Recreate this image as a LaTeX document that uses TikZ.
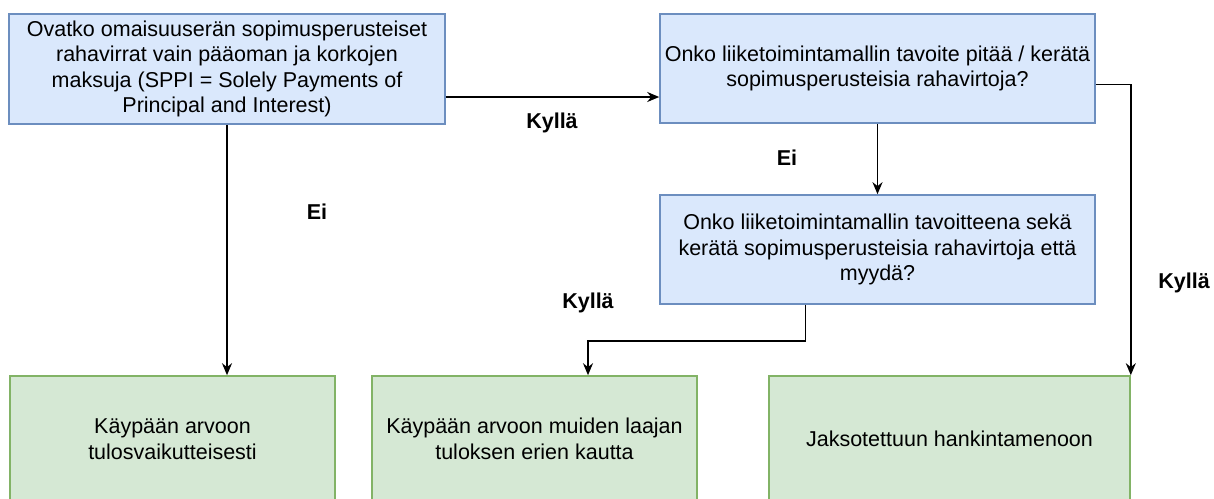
\documentclass[tikz,border=0pt]{standalone}
\usepackage{fontspec}
\setmainfont{Liberation Sans}
\usetikzlibrary{arrows.meta}
\definecolor{bfill}{HTML}{DAE8FC}
\definecolor{bdraw}{HTML}{6C8EBF}
\definecolor{gfill}{HTML}{D5E8D4}
\definecolor{gdraw}{HTML}{82B366}
\begin{document}
\begin{tikzpicture}[x=1pt,y=-1pt,
  font=\fontsize{21.5}{25.5}\selectfont,
  qbox/.style={draw=bdraw,fill=bfill,line width=1.6pt,align=center,inner sep=0pt},
  rbox/.style={draw=gdraw,fill=gfill,line width=1.6pt,align=center,inner sep=0pt},
  conn/.style={line width=1.8pt,-{Stealth[length=12pt,width=10pt]}},
  lbl/.style={font=\fontsize{21.5}{25.5}\selectfont\bfseries}]
\useasboundingbox (0,0) rectangle (1214,498);
\clip (0,0) rectangle (1214,498);
\node[qbox,minimum width=436pt,minimum height=110pt] (b1) at (227,69)
  {Ovatko omaisuuserän sopimusperusteiset\\rahavirrat vain pääoman ja korkojen\\maksuja (SPPI = Solely Payments of\\Principal and Interest)};
\node[qbox,minimum width=435pt,minimum height=109pt] (b2) at (877.5,68.5)
  {Onko liiketoimintamallin tavoite pitää / kerätä\\sopimusperusteisia rahavirtoja?};
\node[qbox,minimum width=435pt,minimum height=109pt] (b3) at (877.5,249.5)
  {Onko liiketoimintamallin tavoitteena sekä\\kerätä sopimusperusteisia rahavirtoja että\\myydä?};
\node[rbox,minimum width=325pt,minimum height=126pt] (ra) at (172.5,439)
  {Käypään arvoon\\tulosvaikutteisesti};
\node[rbox,minimum width=325pt,minimum height=126pt] (rb) at (534.5,439)
  {Käypään arvoon muiden laajan\\tuloksen erien kautta};
\node[rbox,minimum width=361pt,minimum height=126pt] (rc) at (949.5,439)
  {Jaksotettuun hankintamenoon};
\draw[conn] ([yshift=-28pt]b1.east) -- ([yshift=-28pt]b1.east -| b2.west);
\draw[conn] (b1.south) -- (b1.south |- ra.north);
\draw[conn] (b2.south) -- (b3.north);
\draw[conn] ([yshift=-16pt]b2.east) -| (rc.north east);
\draw[conn] ([xshift=-72pt]b3.south) -- ++(0,36) -| ([xshift=53.5pt]rb.north);
\node[lbl] (l1) at (552,123) {Kyllä};
\node[lbl] (l2) at (317,212) {Ei};
\node[lbl] (l3) at (787,158) {Ei};
\node[lbl] (l4) at (588,303) {Kyllä};
\node[lbl] (l5) at (1184,283) {Kyllä};
\end{tikzpicture}
\end{document}
